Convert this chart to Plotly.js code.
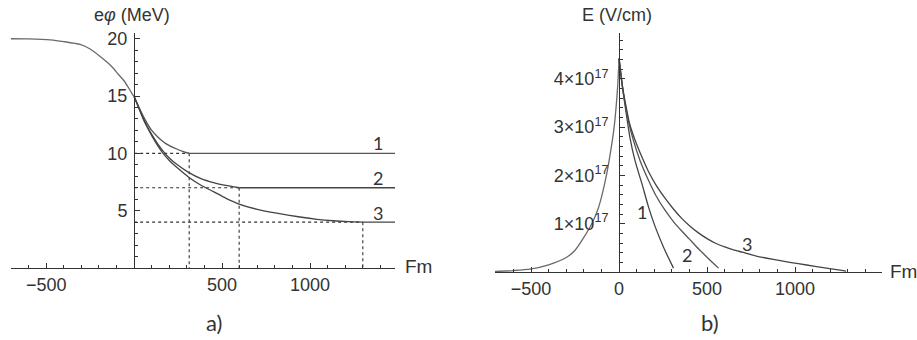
<!DOCTYPE html>
<html>
<head>
<meta charset="utf-8">
<script src="https://cdn.plot.ly/plotly-3.0.1.min.js"></script>
<style>html,body{margin:0;padding:0;background:#fff;}#chart{width:917px;height:340px;}</style>
</head>
<body>
<div id="chart"></div>
<script>
// ---------- Panel a) : potential e*phi (MeV) vs distance (Fm) ----------
const phiSharedX = [-700, -600, -477, -400, -307, -250, -193, -150, -117, -90, -61, -35, -13, 0];
const phiSharedY = [20, 19.98, 19.9, 19.75, 19.5, 19.1, 18.45, 17.9, 17.4, 16.9, 16.4, 15.8, 15.24, 14.95];

const phi1X = [0, 25, 50, 75, 100, 133, 167, 200, 242, 280, 313];
const phi1Y = [14.95, 14.1, 13.3, 12.6, 12.0, 11.45, 11.0, 10.68, 10.38, 10.15, 10.0];

const phi2X = [0, 25, 50, 75, 100, 133, 167, 200, 242, 314, 380, 451, 520, 597];
const phi2Y = [14.95, 14.05, 13.15, 12.35, 11.65, 10.85, 10.15, 9.6, 9.05, 8.3, 7.8, 7.45, 7.2, 7.0];

const phi3X = [0, 25, 50, 75, 100, 133, 167, 200, 242, 314, 380, 451, 520, 597, 700, 811, 943, 1040, 1131, 1220, 1300];
const phi3Y = [14.95, 14.0, 13.05, 12.25, 11.55, 10.7, 9.95, 9.38, 8.78, 7.88, 7.22, 6.66, 6.1, 5.58, 5.12, 4.78, 4.45, 4.25, 4.12, 4.04, 4.0];

// end points of the three potentials (flat continuation + dashed guide lines)
const endX = [313, 597, 1300];
const endLevel = [10, 7, 4];
const xMaxA = 1483;

const phiTickVals = [5, 10, 15, 20];
const phiTickText = ['5', '10', '15', '20'];
const fmTickValsA = [-500, 500, 1000];
const fmTickTextA = ['\u2212500', '500', '1000'];

// ---------- Panel b) : field E (V/cm) vs distance (Fm), values in units of 1e17 ----------
const E_UNIT = 1e17;
const eSharedX = [-705, -600, -506, -400, -300, -250, -203, -155, -120, -100, -72, -50, -28, -15, -7, 0];
const eSharedY = [0.01, 0.03, 0.06, 0.15, 0.3, 0.45, 0.7, 1.0, 1.3, 1.55, 2.0, 2.45, 3.0, 3.5, 3.9, 4.42];

const e1X = [0, 10, 22, 40, 62, 91, 129, 167, 205, 252, 280, 309];
const e1Y = [4.42, 4.1, 3.75, 3.3, 2.78, 2.3, 1.84, 1.35, 0.94, 0.52, 0.3, 0.08];

const e2X = [0, 10, 22, 40, 55, 81, 120, 167, 210, 261, 310, 356, 400, 451, 510, 565];
const e2Y = [4.42, 4.1, 3.77, 3.38, 3.1, 2.73, 2.3, 1.9, 1.58, 1.28, 1.04, 0.85, 0.68, 0.48, 0.27, 0.08];

const e3X = [0, 10, 22, 40, 60, 91, 130, 167, 210, 261, 310, 356, 400, 451, 500, 545, 600, 650, 700, 780, 877, 970, 1066, 1160, 1256, 1290];
const e3Y = [4.42, 4.1, 3.78, 3.42, 3.07, 2.73, 2.38, 2.08, 1.8, 1.53, 1.3, 1.11, 0.96, 0.81, 0.69, 0.6, 0.52, 0.46, 0.41, 0.33, 0.26, 0.2, 0.145, 0.09, 0.04, 0.02];

const eTickVals = [1, 2, 3, 4];
const eTickText = ['1\u00d710<sup>17</sup>', '2\u00d710<sup>17</sup>', '3\u00d710<sup>17</sup>', '4\u00d710<sup>17</sup>'];
const fmTickValsB = [-500, 0, 500, 1000];
const fmTickTextB = ['\u2212500', '0', '500', '1000'];

const curveLabels = ['1', '2', '3'];

// ---------- build ----------
const W = 917, H = 340;
const AX = '#333';
const tickFont = {family: 'Liberation Sans', size: 18, color: '#333'};
const labFont = {family: 'Lato', size: 18, color: '#333'};

function line(x, y, xa, ya, color, dash, width) {
  return {x: x, y: y, xaxis: xa, yaxis: ya, type: 'scatter', mode: 'lines',
          line: {color: color, width: width || 1.3, dash: dash || 'solid', shape: dash ? 'linear' : 'spline', smoothing: 0.6},
          hoverinfo: 'skip', showlegend: false};
}

const traces = [];
const phiColors = ['#555', '#444', '#444'];
// dashed guides + flat continuations, panel a
for (let i = 0; i < endX.length; i++) {
  traces.push(line([0, endX[i]], [endLevel[i], endLevel[i]], 'x', 'y', '#333', '3px,3px', 1.1));
  traces.push(line([endX[i], endX[i]], [endLevel[i], 0], 'x', 'y', '#333', '3px,3px', 1.1));
  const flat = line([endX[i], xMaxA], [endLevel[i], endLevel[i]], 'x', 'y', phiColors[i]);
  flat.line.shape = 'linear';
  traces.push(flat);
}
traces.push(line(phiSharedX, phiSharedY, 'x', 'y', '#6a6a6a'));
traces.push(line(phi1X, phi1Y, 'x', 'y', phiColors[0]));
traces.push(line(phi2X, phi2Y, 'x', 'y', phiColors[1]));
traces.push(line(phi3X, phi3Y, 'x', 'y', phiColors[2]));

const sc = a => a.map(v => v * E_UNIT);
traces.push(line(eSharedX, sc(eSharedY), 'x2', 'y2', '#6a6a6a'));
traces.push(line(e1X, sc(e1Y), 'x2', 'y2', '#444'));
traces.push(line(e2X, sc(e2Y), 'x2', 'y2', '#555'));
traces.push(line(e3X, sc(e3Y), 'x2', 'y2', '#444'));

function xAxis(domain, range, anchor, vals, text) {
  return {domain: domain, range: range, anchor: anchor, showline: true, linecolor: AX, linewidth: 1,
          ticks: 'inside', ticklen: 5, tickcolor: AX, tickwidth: 1,
          tickmode: 'array', tickvals: vals, ticktext: text,
          minor: {tickmode: 'linear', tick0: 0, dtick: 100, ticks: 'inside', ticklen: 3, tickcolor: AX, tickwidth: 1, showgrid: false},
          showgrid: false, zeroline: false, tickfont: tickFont, fixedrange: true, automargin: false};
}
function yAxis(domain, range, pos, vals, text, mdt, standoff) {
  return {domain: domain, range: range, anchor: 'free', position: pos, showline: true, linecolor: AX, linewidth: 1,
          ticks: 'inside', ticklen: 5, tickcolor: AX, tickwidth: 1,
          tickmode: 'array', tickvals: vals, ticktext: text, ticklabelstandoff: standoff,
          minor: {tickmode: 'linear', tick0: 0, dtick: mdt, ticks: 'inside', ticklen: 3, tickcolor: AX, tickwidth: 1, showgrid: false},
          showgrid: false, zeroline: false, tickfont: tickFont, fixedrange: true, automargin: false};
}

const layout = {
  width: W, height: H, autosize: false,
  margin: {l: 0, r: 0, t: 0, b: 0, pad: 0},
  paper_bgcolor: '#fff', plot_bgcolor: 'rgba(0,0,0,0)',
  showlegend: false,
  xaxis: xAxis([11 / W, 395 / W], [-700, xMaxA], 'y', fmTickValsA, fmTickTextA),
  yaxis: yAxis([72 / H, 307 / H], [0, 20.5], 134 / W, phiTickVals, phiTickText, 1, 3),
  xaxis2: xAxis([495 / W, 882 / W], [-705, 1494], 'y2', fmTickValsB, fmTickTextB),
  yaxis2: yAxis([68 / H, 307 / H], [0, 4.95 * E_UNIT], 619 / W, eTickVals.map(v => v * E_UNIT), eTickText, 0.2 * E_UNIT, 7),
  annotations: [
    {xref: 'paper', yref: 'paper', x: 132 / W, y: 1 - 15 / H, text: 'e<i>\u03c6</i> (MeV)', showarrow: false, font: tickFont, xanchor: 'center', yanchor: 'middle'},
    {xref: 'paper', yref: 'paper', x: 617 / W, y: 1 - 15 / H, text: 'E (V/cm)', showarrow: false, font: tickFont, xanchor: 'center', yanchor: 'middle'},
    {xref: 'paper', yref: 'paper', x: 403 / W, y: 1 - 266 / H, text: 'Fm', showarrow: false, font: {family: 'Liberation Sans', size: 19, color: '#333'}, xanchor: 'left', yanchor: 'middle'},
    {xref: 'paper', yref: 'paper', x: 888 / W, y: 1 - 271 / H, text: 'Fm', showarrow: false, font: {family: 'Liberation Sans', size: 19, color: '#333'}, xanchor: 'left', yanchor: 'middle'},
    {xref: 'paper', yref: 'paper', x: 214 / W, y: 1 - 322 / H, text: 'a)', showarrow: false, font: {family: 'Lato', size: 22, color: '#333'}, xanchor: 'center', yanchor: 'middle'},
    {xref: 'paper', yref: 'paper', x: 710 / W, y: 1 - 322 / H, text: 'b)', showarrow: false, font: {family: 'Lato', size: 22, color: '#333'}, xanchor: 'center', yanchor: 'middle'},
    {xref: 'x', yref: 'y', x: 1386, y: 10.9, text: curveLabels[0], showarrow: false, font: labFont},
    {xref: 'x', yref: 'y', x: 1386, y: 7.85, text: curveLabels[1], showarrow: false, font: labFont},
    {xref: 'x', yref: 'y', x: 1386, y: 4.8, text: curveLabels[2], showarrow: false, font: labFont},
    {xref: 'x2', yref: 'y2', x: 128, y: 1.25 * E_UNIT, text: curveLabels[0], showarrow: false, font: labFont},
    {xref: 'x2', yref: 'y2', x: 385, y: 0.35 * E_UNIT, text: curveLabels[1], showarrow: false, font: labFont},
    {xref: 'x2', yref: 'y2', x: 726, y: 0.58 * E_UNIT, text: curveLabels[2], showarrow: false, font: labFont}
  ]
};

Plotly.newPlot('chart', traces, layout, {staticPlot: true, displayModeBar: false});
</script>
</body>
</html>
